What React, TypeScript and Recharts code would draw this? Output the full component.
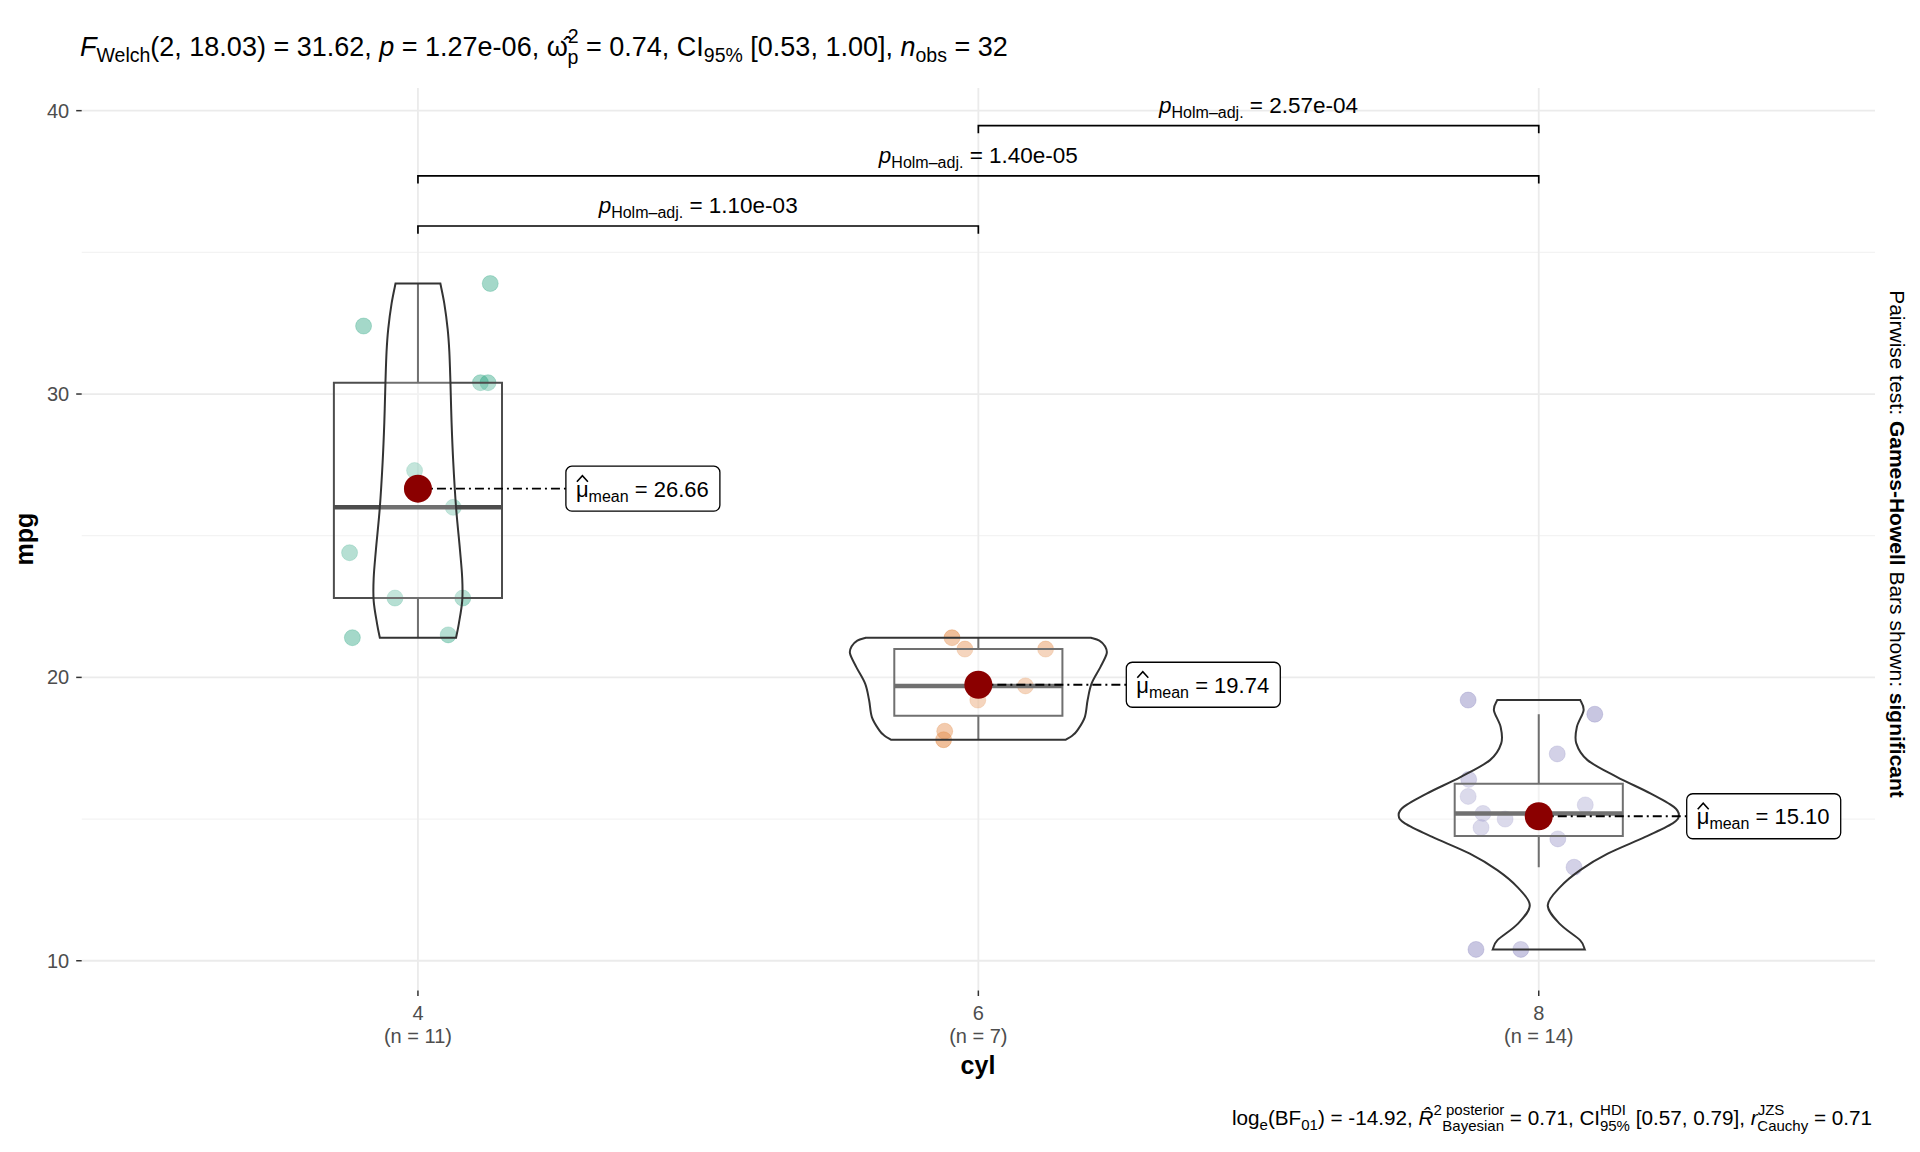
import React from "react";
import { ComposedChart, Scatter, XAxis, YAxis, CartesianGrid } from "recharts";

// ---- data (mtcars mpg by cyl) ----
const categories = ["4", "6", "8"];
const counts = [11, 7, 14];
const catX = [1, 2, 3];

const means = [26.66, 19.74, 15.1];
const meanLabels = ["26.66", "19.74", "15.10"];

const q1 = [22.8, 18.65, 14.4];
const medians = [26.0, 19.7, 15.2];
const q3 = [30.4, 21.0, 16.25];
const whiskerLow = [21.4, 17.8, 13.3];
const whiskerHigh = [33.9, 21.4, 18.7];

const mpg4 = [33.9, 32.4, 30.4, 30.4, 27.3, 26.0, 24.4, 22.8, 22.8, 21.4, 21.5];
const jitter4 = [0.129, -0.097, 0.1115, 0.125, -0.006, 0.063, -0.122, -0.041, 0.08, -0.117, 0.054];
const mpg6 = [21.4, 21.0, 21.0, 19.7, 19.2, 18.1, 17.8];
const jitter6 = [-0.047, -0.024, 0.12, 0.084, -0.001, -0.06, -0.062];
const mpg8 = [19.2, 18.7, 17.3, 16.4, 15.8, 15.5, 15.2, 15.2, 15.0, 14.7, 14.3, 13.3, 10.4, 10.4];
const jitter8 = [-0.126, 0.1, 0.033, -0.125, -0.126, 0.083, -0.0995, 0.005, -0.06, -0.103, 0.034, 0.063, -0.112, -0.032];

// violin outlines: mpg level and half width (in category units)
const violinY4 = [21.4, 21.9, 22.7, 23.5, 24.5, 26.0, 27.6, 29.0, 30.4, 31.5, 32.3, 33.2, 33.9];
const violinW4 = [0.068, 0.073, 0.079, 0.079, 0.075, 0.068, 0.063, 0.06, 0.058, 0.056, 0.053, 0.047, 0.04];
const violinY6 = [17.8, 17.95, 18.14, 18.6, 19.2, 19.78, 20.37, 20.84, 21.1, 21.3, 21.4];
const violinW6 = [0.156, 0.168, 0.177, 0.19, 0.195, 0.202, 0.218, 0.229, 0.226, 0.216, 0.201];
const violinY8 = [10.4, 10.72, 11.31, 11.96, 12.6, 13.2, 13.78, 14.37, 14.85, 15.13, 15.43, 15.9, 16.49, 17.08, 17.67, 18.25, 18.84, 19.2];
const violinW8 = [0.082, 0.074, 0.037, 0.016, 0.038, 0.074, 0.123, 0.19, 0.239, 0.25, 0.241, 0.2, 0.139, 0.087, 0.067, 0.068, 0.08, 0.074];

const pairs = [
  [1, 2],
  [1, 3],
  [2, 3],
];
const bracketY = [35.93, 37.7, 39.47];
const pValues = ["1.10e-03", "1.40e-05", "2.57e-04"];

const yTicks = [10, 20, 30, 40];
const yMinor = [15, 25, 35];

// ---- styling ----
const FONT = "'Liberation Sans', Arial, sans-serif";
const COLORS = ["#1B9E77", "#D95F02", "#7570B3"];
const BOX_HALF = 0.15;
const LABEL_OFFSET = 0.264;
const TIP = 0.27;

type P = { x: number; y: number };

const px = (pts: any[]): P[] =>
  pts.map((p) => ({ x: p.x ?? p.cx, y: p.y ?? p.cy }));

// catmull-rom -> cubic bezier, starting from pts[0]
function smooth(pts: P[]) {
  let d = "";
  for (let i = 0; i < pts.length - 1; i++) {
    const p0 = pts[i - 1] || pts[i];
    const p1 = pts[i];
    const p2 = pts[i + 1];
    const p3 = pts[i + 2] || p2;
    const c1x = p1.x + (p2.x - p0.x) / 6;
    const c1y = p1.y + (p2.y - p0.y) / 6;
    const c2x = p2.x - (p3.x - p1.x) / 6;
    const c2y = p2.y - (p3.y - p1.y) / 6;
    d += ` C${c1x},${c1y} ${c2x},${c2y} ${p2.x},${p2.y}`;
  }
  return d;
}

const violinLine = (props: any) => {
  const pts = px(props.points);
  const n = pts.length / 2;
  const left = pts.slice(0, n);
  const right = pts.slice(n);
  const d =
    `M${left[0].x},${left[0].y}` +
    smooth(left) +
    ` L${right[0].x},${right[0].y}` +
    smooth(right) +
    " Z";
  return <path d={d} fill="#ffffff" fillOpacity={0.2} stroke="#333333" strokeWidth={2} />;
};

const polyLine =
  (stroke: string, width: number, dash?: string, fill?: string) => (props: any) => {
    const pts = px(props.points);
    const d = pts.map((p, i) => `${i ? "L" : "M"}${p.x},${p.y}`).join(" ") + (fill ? " Z" : "");
    return (
      <path
        d={d}
        fill={fill || "none"}
        fillOpacity={fill ? 0.2 : undefined}
        stroke={stroke}
        strokeWidth={width}
        strokeDasharray={dash}
      />
    );
  };

const Empty = () => null;

const violinData = (c: number, ys: number[], ws: number[]) => [
  ...ys.map((y, i) => ({ x: c - ws[i], y })),
  ...ys
    .map((y, i) => ({ x: c + ws[i], y }))
    .reverse(),
];

const groups = [
  { c: 1, mpg: mpg4, jit: jitter4, vy: violinY4, vw: violinW4 },
  { c: 2, mpg: mpg6, jit: jitter6, vy: violinY6, vw: violinW6 },
  { c: 3, mpg: mpg8, jit: jitter8, vy: violinY8, vw: violinW8 },
];

const dotShape = (color: string) => (p: any) => (
  <circle cx={p.cx} cy={p.cy} r={8} fill={color} fillOpacity={0.4} stroke={color} strokeOpacity={0.25} strokeWidth={1} />
);

const MeanDot = (p: any) => <circle cx={p.cx} cy={p.cy} r={14} fill="#8B0000" />;

const MeanLabel = (p: any) => {
  const base = p.cy + 8;
  const hx = p.cx + 16.5;
  return (
    <g>
      <rect x={p.cx} y={p.cy - 22.5} width={154} height={45} rx={6} fill="#ffffff" stroke="#000000" strokeWidth={1.3} />
      {/* hat over mu */}
      <path
        d={`M${hx - 5.5},${base - 15} L${hx},${base - 21} L${hx + 5.5},${base - 15}`}
        fill="none"
        stroke="#000"
        strokeWidth={1.6}
      />
      <text x={p.cx + 10} y={base} fontSize={22} fontFamily={FONT} fill="#000" style={{ whiteSpace: "pre" }}>
        <tspan>{"\u03BC"}</tspan>
        <tspan fontSize={16} dy={5}>mean</tspan>
        <tspan dy={-5}>{` = ${p.payload.label}`}</tspan>
      </text>
    </g>
  );
};

const PLabel = (p: any) => (
  <text x={p.cx} y={p.cy - 13} textAnchor="middle" fontSize={22.5} fontFamily={FONT} fill="#000" style={{ whiteSpace: "pre" }}>
    <tspan fontStyle="italic">p</tspan>
    <tspan fontSize={16} dy={5}>{"Holm\u2013adj."}</tspan>
    <tspan dy={-5}>{` = ${p.payload.label}`}</tspan>
  </text>
);

const CylTick = (props: any) => {
  const { x, y, payload } = props;
  const i = catX.indexOf(payload.value);
  return (
    <text x={x} y={y} textAnchor="middle" fill="#4D4D4D" fontSize={20} fontFamily={FONT}>
      <tspan x={x} dy={24}>{categories[i]}</tspan>
      <tspan x={x} dy={23}>{`(n = ${counts[i]})`}</tspan>
    </text>
  );
};

export default function App() {
  return (
    <div style={{ position: "absolute", left: 0, top: 0, width: 1920, height: 1152, background: "#fff", fontFamily: FONT }}>
      <ComposedChart width={1920} height={1152} margin={{ top: 88, right: 45, bottom: 101.5, left: 0 }}>
        <CartesianGrid horizontalValues={yMinor} vertical={false} stroke="#F3F3F3" strokeWidth={1.2} />
        <CartesianGrid horizontalValues={yTicks} verticalValues={catX} stroke="#EBEBEB" strokeWidth={1.8} />
        <XAxis
          type="number"
          dataKey="x"
          domain={[0.4, 3.6]}
          ticks={catX}
          allowDataOverflow
          axisLine={false}
          tickLine={{ stroke: "#333", strokeWidth: 1.5 }}
          tickSize={5.5}
          tickMargin={0}
          height={60}
          tick={<CylTick />}
        />
        <YAxis
          type="number"
          dataKey="y"
          domain={[8.95, 40.8]}
          ticks={yTicks}
          allowDataOverflow
          axisLine={false}
          tickLine={{ stroke: "#333", strokeWidth: 1.5 }}
          tickSize={5.5}
          tickMargin={7}
          width={81.7}
          tick={{ fill: "#4D4D4D", fontSize: 20, fontFamily: FONT }}
        />

        {groups.map((g, k) => (
          <Scatter
            key={`pts${k}`}
            data={g.mpg.map((v, i) => ({ x: g.c + g.jit[i], y: v }))}
            shape={dotShape(COLORS[k])}
            isAnimationActive={false}
          />
        ))}

        {groups.map((g, k) => (
          <Scatter
            key={`box${k}`}
            data={[
              { x: g.c - BOX_HALF, y: q1[k] },
              { x: g.c + BOX_HALF, y: q1[k] },
              { x: g.c + BOX_HALF, y: q3[k] },
              { x: g.c - BOX_HALF, y: q3[k] },
            ]}
            line={polyLine("#4D4D4D", 2, undefined, "#ffffff")}
            shape={Empty}
            isAnimationActive={false}
          />
        ))}
        {groups.map((g, k) => (
          <Scatter
            key={`wu${k}`}
            data={[
              { x: g.c, y: q3[k] },
              { x: g.c, y: whiskerHigh[k] },
            ]}
            line={polyLine("#4D4D4D", 2)}
            shape={Empty}
            isAnimationActive={false}
          />
        ))}
        {groups.map((g, k) => (
          <Scatter
            key={`wl${k}`}
            data={[
              { x: g.c, y: q1[k] },
              { x: g.c, y: whiskerLow[k] },
            ]}
            line={polyLine("#4D4D4D", 2)}
            shape={Empty}
            isAnimationActive={false}
          />
        ))}
        {groups.map((g, k) => (
          <Scatter
            key={`med${k}`}
            data={[
              { x: g.c - BOX_HALF, y: medians[k] },
              { x: g.c + BOX_HALF, y: medians[k] },
            ]}
            line={polyLine("#4D4D4D", 4.5)}
            shape={Empty}
            isAnimationActive={false}
          />
        ))}

        {groups.map((g, k) => (
          <Scatter
            key={`vio${k}`}
            data={violinData(g.c, g.vy, g.vw)}
            line={violinLine}
            shape={Empty}
            isAnimationActive={false}
          />
        ))}

        {groups.map((g, k) => (
          <Scatter
            key={`seg${k}`}
            data={[
              { x: g.c, y: means[k] },
              { x: g.c + LABEL_OFFSET, y: means[k] },
            ]}
            line={polyLine("#000000", 1.8, "9 4 2 4")}
            shape={Empty}
            isAnimationActive={false}
          />
        ))}
        <Scatter
          data={catX.map((c, k) => ({ x: c, y: means[k] }))}
          shape={MeanDot}
          isAnimationActive={false}
        />
        <Scatter
          data={catX.map((c, k) => ({ x: c + LABEL_OFFSET, y: means[k], label: meanLabels[k] }))}
          shape={MeanLabel}
          isAnimationActive={false}
        />

        {pairs.map(([a, b], k) => (
          <Scatter
            key={`br${k}`}
            data={[
              { x: a, y: bracketY[k] - TIP },
              { x: a, y: bracketY[k] },
              { x: b, y: bracketY[k] },
              { x: b, y: bracketY[k] - TIP },
            ]}
            line={polyLine("#000000", 1.7)}
            shape={Empty}
            isAnimationActive={false}
          />
        ))}
        <Scatter
          data={pairs.map(([a, b], k) => ({ x: (a + b) / 2, y: bracketY[k], label: pValues[k] }))}
          shape={PLabel}
          isAnimationActive={false}
        />
      </ComposedChart>

      <svg
        width={1920}
        height={1152}
        style={{ position: "absolute", left: 0, top: 0, pointerEvents: "none" }}
        fontFamily={FONT}
      >
        <text x={80} y={56} fontSize={27} fill="#000" style={{ whiteSpace: "pre" }}>
          <tspan fontStyle="italic">F</tspan>
          <tspan fontSize={19.5} dy={6}>Welch</tspan>
          <tspan dy={-6}>{"(2, 18.03) = 31.62, "}</tspan>
          <tspan fontStyle="italic">p</tspan>
          <tspan>{" = 1.27e-06, "}</tspan>
          <tspan>{"\u03C9\u0302"}</tspan>
          <tspan fontSize={19.5} dy={-13}>2</tspan>
          <tspan fontSize={19.5} dx={-11} dy={21}>p</tspan>
          <tspan dy={-8}>{" = 0.74, CI"}</tspan>
          <tspan fontSize={19.5} dy={6}>95%</tspan>
          <tspan dy={-6}>{" [0.53, 1.00], "}</tspan>
          <tspan fontStyle="italic">n</tspan>
          <tspan fontSize={19.5} dy={6}>obs</tspan>
          <tspan dy={-6}>{" = 32"}</tspan>
        </text>

        <text
          transform="translate(33, 539) rotate(-90)"
          textAnchor="middle"
          fontSize={25}
          fontWeight="bold"
          fill="#000"
        >
          mpg
        </text>
        <text x={978} y={1074} textAnchor="middle" fontSize={25} fontWeight="bold" fill="#000">
          cyl
        </text>

        <text
          transform="translate(1890, 544) rotate(90)"
          textAnchor="middle"
          fontSize={21}
          fill="#000"
          style={{ whiteSpace: "pre" }}
        >
          <tspan>{"Pairwise test: "}</tspan>
          <tspan fontWeight="bold">Games-Howell</tspan>
          <tspan>{" Bars shown: "}</tspan>
          <tspan fontWeight="bold">significant</tspan>
        </text>

        <text x={1872} y={1125} textAnchor="end" fontSize={20.7} fill="#000" style={{ whiteSpace: "pre" }}>
          <tspan>log</tspan>
          <tspan fontSize={15} dy={5}>e</tspan>
          <tspan dy={-5}>(BF</tspan>
          <tspan fontSize={15} dy={5}>01</tspan>
          <tspan dy={-5}>{") = -14.92, "}</tspan>
          <tspan fontStyle="italic">{"R\u0302"}</tspan>
          <tspan fontSize={15} dy={-10}>2</tspan>
          <tspan fontSize={15}>{" posterior"}</tspan>
          <tspan fontSize={15} dx={-62} dy={16}>Bayesian</tspan>
          <tspan dy={-6}>{" = 0.71, CI"}</tspan>
          <tspan fontSize={15} dy={-10}>HDI</tspan>
          <tspan fontSize={15} dx={-26} dy={16}>95%</tspan>
          <tspan dy={-6}>{" [0.57, 0.79], "}</tspan>
          <tspan fontStyle="italic">r</tspan>
          <tspan fontSize={15} dy={-10}>JZS</tspan>
          <tspan fontSize={15} dx={-27} dy={16}>Cauchy</tspan>
          <tspan dy={-6}>{" = 0.71"}</tspan>
        </text>
      </svg>
    </div>
  );
}
